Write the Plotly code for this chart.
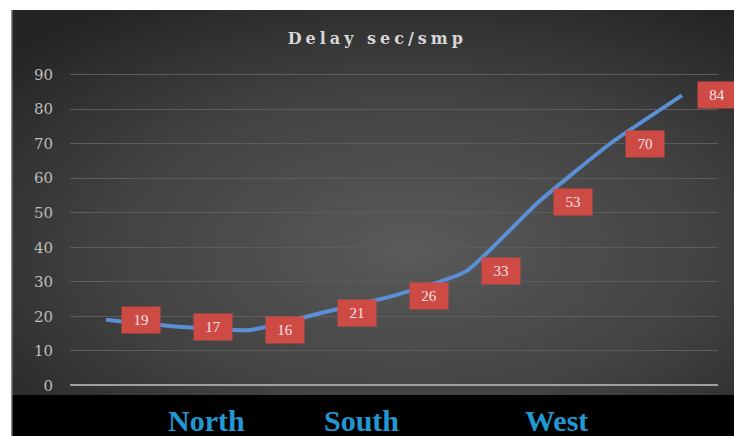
import plotly.graph_objects as go
import base64

# ---- data ----
point_index = [0, 1, 2, 3, 4, 5, 6, 7, 8]
delay_values = [19, 17, 16, 21, 26, 33, 53, 70, 84]
y_ticks = [0, 10, 20, 30, 40, 50, 60, 70, 80, 90]
region_labels = ["North", "South", "West"]
region_pos = [1.4, 3.55, 6.25]
title_text = "Delay sec/smp"

W, H = 734, 436
ML, MR, MT, MB = 70, 16, 73, 49
pw, ph = W - ML - MR, H - MT - MB

# background svg covering whole figure
svg = f'''<svg xmlns="http://www.w3.org/2000/svg" width="{W}" height="{H}" viewBox="0 0 {W} {H}" preserveAspectRatio="none">
<defs><radialGradient id="g" cx="55%" cy="62%" r="75%">
<stop offset="0" stop-color="#5a5a5a"/><stop offset="0.55" stop-color="#424242"/><stop offset="1" stop-color="#242424"/>
</radialGradient></defs>
<rect x="0" y="0" width="{W}" height="{H}" fill="#ffffff"/>
<rect x="12" y="10" width="{W-12}" height="{395-10}" fill="url(#g)"/>
<rect x="12" y="395" width="{W-12}" height="{H-395}" fill="#000000"/>
<rect x="11" y="10" width="1.5" height="{H-10}" fill="#8a8a8a"/>
</svg>'''
uri = "data:image/svg+xml;base64," + base64.b64encode(svg.encode()).decode()

fig = go.Figure()
fig.add_trace(go.Scatter(
    x=point_index, y=delay_values, mode="lines",
    line=dict(color="#5a8fd6", width=4, shape="spline", smoothing=0.45),
    hoverinfo="skip", showlegend=False,
))

for xi, v in zip(point_index, delay_values):
    fig.add_annotation(
        x=xi, y=v, xref="x", yref="y", text=str(v), showarrow=False,
        xshift=35, bgcolor="#cd4a45", width=38, height=26, borderpad=0,
        font=dict(family="Liberation Serif", size=15, color="#f7e4e4"),
    )

for lab, pos in zip(region_labels, region_pos):
    fig.add_annotation(
        x=pos, y=0, xref="x", yref="paper", text=f"<b>{lab}</b>", showarrow=False,
        yshift=-(420 - (H - MB)), yanchor="middle",
        font=dict(family="Liberation Serif", size=30, color="#2298d2"),
    )

fig.add_layout_image(
    source=uri, xref="paper", yref="paper",
    x=-ML / pw, y=1 + MT / ph, sizex=W / pw, sizey=H / ph,
    xanchor="left", yanchor="top", sizing="stretch", layer="below",
)

fig.update_layout(
    width=W, height=H,
    margin=dict(l=ML, r=MR, t=MT, b=MB, pad=0),
    paper_bgcolor="#ffffff", plot_bgcolor="rgba(0,0,0,0)",
    title=dict(
        text=f'<span style="letter-spacing:4px"><b>{title_text}</b></span>',
        x=0.514, xanchor="center", xref="container",
        y=1 - 38 / H, yanchor="middle", yref="container",
        font=dict(family="DejaVu Serif", size=16, color="#d6d6d6"),
    ),
    xaxis=dict(range=[-0.5, 8.5], showgrid=False, zeroline=False,
               showticklabels=False, showline=False, fixedrange=True),
    yaxis=dict(range=[-0.5, 90.5], tickvals=y_ticks, showgrid=True,
               gridcolor="#5c5c5c", gridwidth=1,
               zeroline=True, zerolinecolor="#a0a0a0", zerolinewidth=2,
               showline=False, ticks="", ticklabelstandoff=16,
               tickfont=dict(family="DejaVu Serif", size=15, color="#bdbdbd")),
)

fig.write_html("out.html")
